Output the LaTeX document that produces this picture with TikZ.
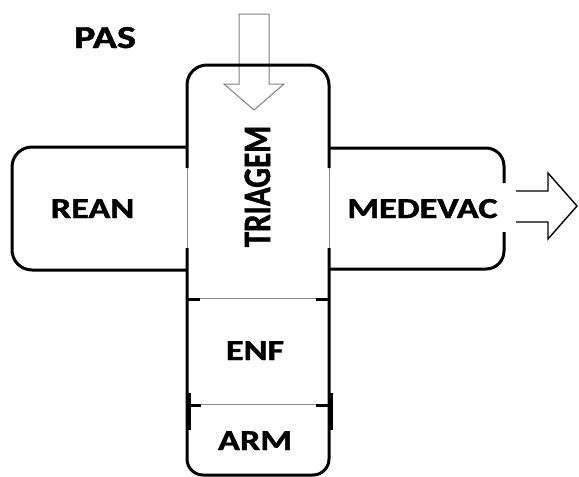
\documentclass[tikz,border=0pt]{standalone}
\usepackage{fontspec}
\setmainfont{Carlito}
\newfontfamily\lblfont{Carlito Bold}[FakeBold=1.3]
\begin{document}
\begin{tikzpicture}[x=1pt,y=-1pt,
  thickline/.style={line width=3pt,black},
  thinline/.style={line width=1pt,black!45},
  lbl/.style={inner sep=0pt,anchor=base,font=\fontsize{29}{34}\lblfont},
  hollowarrow/.style={line width=1.4pt,black,fill=white,line join=miter}]
\useasboundingbox (0,0) rectangle (579,477);
% top arrow (gray)
\draw[line width=1pt,black!50,fill=white] (239,84) -- (239,14) -- (269,14) -- (269,84) -- (284,84) -- (254,110) -- (224,84) -- cycle;
% REAN box
\draw[thickline,rounded corners=20] (187,147) -- (12,147) -- (12,270) -- (187,270);
% MEDEVAC box
\draw[thickline,rounded corners=18] (329,148) -- (504,148) -- (504,183);
\draw[thickline,rounded corners=18] (504,232) -- (504,269) -- (329,269);
% central column
\draw[thickline,rounded corners=20] (187,168) -- (187,65) -- (329,65) -- (329,168);
\draw[thickline,rounded corners=16] (329,248) -- (329,475) -- (187,475) -- (187,248);
\draw[thinline] (187,168) -- (187,248);
\draw[thinline] (329,168) -- (329,248);
% separators
\draw[thinline] (187,298) -- (329,298);
\draw[thinline] (187,404) -- (329,404);
\draw[thickline] (187,299) -- (200,299);
\draw[thickline] (316,299) -- (329,299);
\draw[thickline] (187,405) -- (201,405);
\draw[thickline] (316,405) -- (329,405);
\draw[line width=2.4pt] (189.5,393) -- (189.5,430);
\draw[line width=2.4pt] (331.5,393) -- (331.5,430);
% right arrow
\draw[hollowarrow] (516,191) -- (548,191) -- (548,173) -- (577,206) -- (548,239) -- (548,222) -- (516,222);
% labels
\node[lbl,font=\fontsize{32}{38}\lblfont] (pas) at (105,48) {\scalebox{1.25}[1]{PAS}};
\node[lbl] (rean) at (92.5,218) {\scalebox{1.25}[1]{REAN}};
\node[lbl] (medevac) at (422.5,218) {\scalebox{1.25}[1]{MEDEVAC}};
\node[lbl] (enf) at (255,360) {\scalebox{1.25}[1]{ENF}};
\node[lbl] (arm) at (255,450) {\scalebox{1.25}[1]{ARM}};
\node[lbl,rotate=90,font=\fontsize{31}{36}\lblfont] (triagem) at (270,186.5) {\scalebox{1}[1.25]{TRIAGEM}};
\end{tikzpicture}
\end{document}
